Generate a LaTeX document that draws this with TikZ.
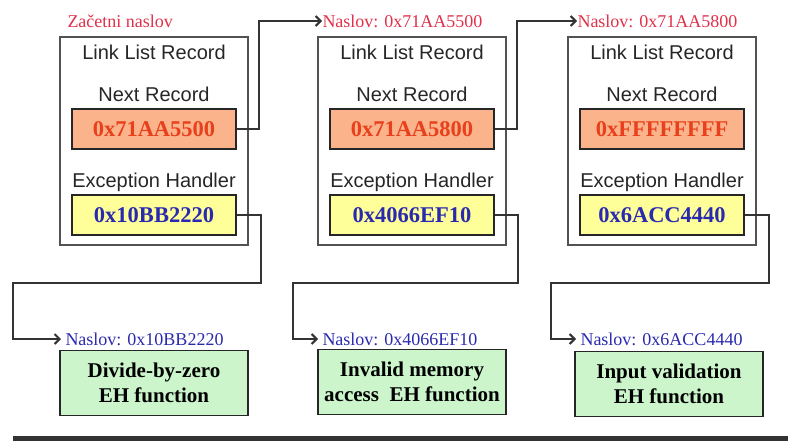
\documentclass[tikz,border=0pt]{standalone}
\usepackage{fontspec}
\setmainfont{Liberation Serif}
\setsansfont{Liberation Sans}
\usetikzlibrary{arrows.meta}
\definecolor{lblred}{HTML}{E0304A}
\definecolor{hexred}{HTML}{E8401C}
\definecolor{hexblue}{HTML}{2A2AB0}
\definecolor{nextfill}{HTML}{FAB38A}
\definecolor{ehfill}{HTML}{FFFF99}
\definecolor{fnfill}{HTML}{CCF5CC}
\definecolor{linegray}{HTML}{333333}
\tikzset{every picture/.style={line width=1pt},
  recbox/.style={draw=linegray!85, line width=1.3pt, minimum width=188pt, minimum height=208pt, inner sep=0pt},
  caption/.style={font=\sffamily\fontsize{20}{22}\selectfont, text=black!85, inner sep=0pt},
  nextbox/.style={draw=black!85, line width=1.5pt, fill=nextfill, minimum width=164pt, minimum height=40pt, inner sep=0pt, font=\bfseries\fontsize{22.5}{24}\selectfont, text=hexred},
  ehbox/.style={draw=black!85, line width=1.5pt, fill=ehfill, minimum width=164pt, minimum height=40pt, inner sep=0pt, font=\bfseries\fontsize{22.5}{24}\selectfont, text=hexblue},
  fnbox/.style={draw=black!85, line width=1.5pt, fill=fnfill, minimum width=188pt, minimum height=65pt, inner sep=0pt, align=center, font=\bfseries\fontsize{21}{25}\selectfont},
  toplbl/.style={anchor=west, inner sep=0pt, text=lblred, font=\fontsize{18}{20}\selectfont},
  botlbl/.style={anchor=west, inner sep=0pt, text=hexblue, font=\fontsize{18}{20}\selectfont},
  link/.style={draw=linegray, line width=2pt, -{Straight Barb[length=5pt,width=10pt]}}}

\begin{document}
\begin{tikzpicture}[x=1pt,y=1pt,yscale=-1]
\useasboundingbox (0,0) rectangle (788,441);
% records
\node[recbox] (rec1) at (154,141) {};
\node[recbox] (rec2) at (412,141) {};
\node[recbox] (rec3) at (662,141) {};
\node[toplbl] (start) at (67,21) {Začetni naslov};
\node[toplbl] (addr2) at (322,21) {Naslov: 0x71AA5500};
\node[toplbl] (addr3) at (577,21) {Naslov: 0x71AA5800};
\node[caption] (llr1) at (154,52) {Link List Record};
\node[caption] (llr2) at (412,52) {Link List Record};
\node[caption] (llr3) at (662,52) {Link List Record};
\node[caption] (nr1) at (154,94) {Next Record};
\node[caption] (nr2) at (412,94) {Next Record};
\node[caption] (nr3) at (662,94) {Next Record};
\node[nextbox] (next1) at (154,129) {0x71AA5500};
\node[nextbox] (next2) at (412,129) {0x71AA5800};
\node[nextbox] (next3) at (662,129) {0xFFFFFFFF};
\node[caption] (eh1) at (154,182) {Exception Handler};
\node[caption] (eh2) at (412,182) {Exception Handler};
\node[caption] (eh3) at (662,182) {Exception Handler};
\node[ehbox] (hnd1) at (154,215) {0x10BB2220};
\node[ehbox] (hnd2) at (412,215) {0x4066EF10};
\node[ehbox] (hnd3) at (662,215) {0x6ACC4440};
% handler functions
\node[botlbl] (faddr1) at (65,339) {Naslov: 0x10BB2220};
\node[botlbl] (faddr2) at (322,339) {Naslov: 0x4066EF10};
\node[botlbl] (faddr3) at (580,339) {Naslov: 0x6ACC4440};
\node[fnbox] (fn1) at (154,383) {Divide-by-zero\\EH function};
\node[fnbox] (fn2) at (412,382) {Invalid memory\\access~ EH function};
\node[fnbox] (fn3) at (669,384) {Input validation\\EH function};
% links
\draw[link] (next1.east) -- ++(22,0) |- (addr2.west);
\draw[link] (next2.east) -- ++(22,0) |- (addr3.west);
\coordinate (turn1) at (13,283);
\coordinate (turn2) at (293,283);
\coordinate (turn3) at (551,283);
\draw[link] (hnd1.east) -- ++(24,0) |- (turn1) |- ([xshift=-4pt]faddr1.west);
\draw[link] (hnd2.east) -- ++(23,0) |- (turn2) |- ([xshift=-4pt]faddr2.west);
\draw[link] (hnd3.east) -- ++(24,0) |- (turn3) |- ([xshift=-4pt]faddr3.west);
\fill[linegray] (13,436) rectangle (788,441);
\end{tikzpicture}
\end{document}
